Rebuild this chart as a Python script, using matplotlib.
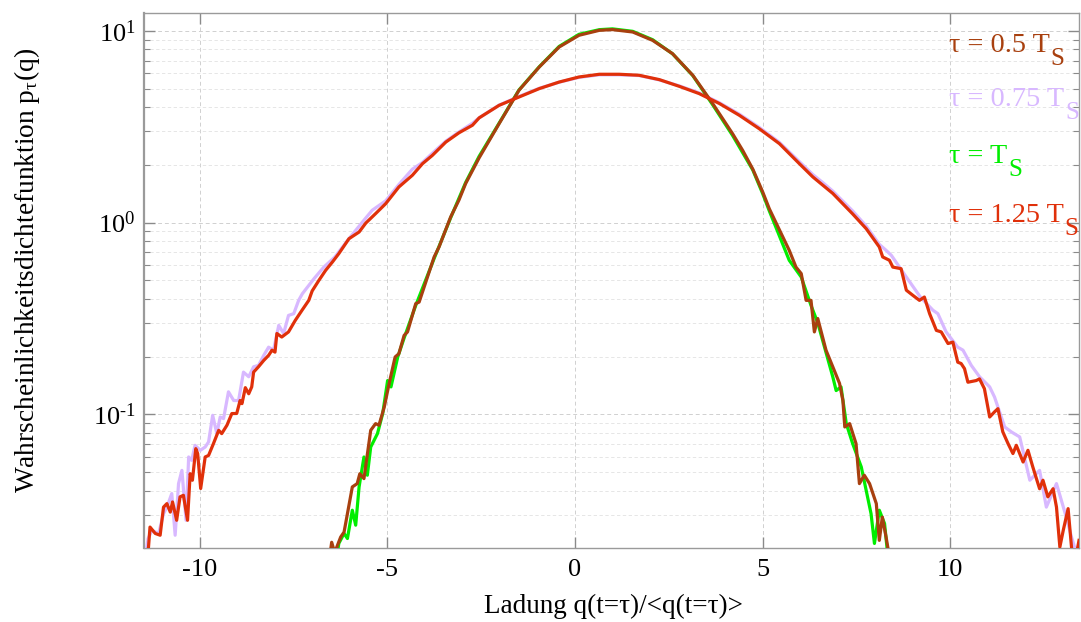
import matplotlib
matplotlib.use("Agg")
import matplotlib.pyplot as plt
from matplotlib.ticker import LogLocator, NullLocator, NullFormatter, FixedLocator, FuncFormatter
import numpy as np

plt.rcParams['font.family'] = ['Liberation Serif', 'DejaVu Serif']
plt.rcParams['mathtext.fontset'] = 'custom'
plt.rcParams['mathtext.rm'] = 'Liberation Serif'
plt.rcParams['mathtext.it'] = 'Liberation Serif:italic'
plt.rcParams['mathtext.bf'] = 'Liberation Serif:bold'
plt.rcParams['axes.unicode_minus'] = False

# ---------------- data ----------------
x_05 = [-6.55, -6.48, -6.40, -6.24, -6.15, -5.93, -5.80, -5.73, -5.62, -5.44, -5.31, -5.22,
        -5.08, -4.95, -4.79, -4.69, -4.55, -4.46, -4.24, -4.15, -3.75, -3.62, -3.31, -3.09,
        -2.91, -2.55, -2.02, -1.49, -0.95, -0.42, 0.11, 0.65, 1.0, 1.54, 2.07, 2.60, 3.14,
        3.67, 4.20, 4.47, 4.74, 5.0, 5.18, 5.54, 5.71, 5.89, 6.03, 6.16, 6.29, 6.38, 6.47,
        6.69, 6.87, 7.05, 7.14, 7.19, 7.32, 7.49, 7.58, 7.71, 7.85, 8.03, 8.11, 8.19, 8.29, 8.38]
y_05 = [0.017, 0.0215, 0.019, 0.0229, 0.0243, 0.0418, 0.0435, 0.049, 0.0462, 0.0825, 0.0894, 0.0877,
        0.109, 0.1445, 0.199, 0.207, 0.258, 0.269, 0.378, 0.385, 0.662, 0.746, 1.07, 1.31,
        1.60, 2.18, 3.28, 4.90, 6.48, 8.24, 9.49, 10.07, 10.16, 9.87, 8.93, 7.61, 5.87,
        4.18, 2.91, 2.38, 1.90, 1.45, 1.18, 0.841, 0.717, 0.586, 0.542, 0.393, 0.393, 0.269, 0.316,
        0.216, 0.177, 0.145, 0.118, 0.0859, 0.0894, 0.0703, 0.0435, 0.0481, 0.0435, 0.0342, 0.022, 0.0291, 0.0229, 0.018]

x_075 = [-11.45, -11.37, -11.27, -11.09, -10.96, -10.87, -10.74, -10.65, -10.56, -10.47, -10.36, -10.29,
         -10.21, -10.12, -9.98, -9.85, -9.76, -9.65, -9.54, -9.45, -9.36, -9.23, -9.09, -8.96,
         -8.83, -8.69, -8.56, -8.43, -8.29, -8.16, -8.03, -7.89, -7.76, -7.63, -7.49, -7.36,
         -7.26, -6.95, -6.69, -6.40, -6.02, -5.66, -5.40, -5.04, -4.69, -4.33, -4.06, -3.80,
         -3.44, -3.09, -2.73, -2.55, -2.02, -1.49, -0.95, -0.42, 0.11, 0.65, 1.18, 1.71, 2.25,
         2.78, 3.31, 3.85, 4.38, 4.91, 5.45, 5.98, 6.34, 6.60, 6.87, 7.40, 7.76, 8.11, 8.29,
         8.43, 8.83, 9.20, 9.54, 9.67, 9.89, 10.20, 10.34, 10.56, 10.78, 11.05, 11.18, 11.45,
         11.63, 11.85, 12.12, 12.38, 12.56, 12.83, 12.96, 13.09, 13.23, 13.31, 13.38]
y_075 = [0.018, 0.0225, 0.0248, 0.0239, 0.0303, 0.0328, 0.0386, 0.0234, 0.0435, 0.051, 0.028, 0.0599,
         0.0575, 0.0689, 0.0649, 0.0675, 0.0717, 0.0988, 0.0793, 0.0968, 0.095, 0.131, 0.118, 0.118,
         0.166, 0.157, 0.177, 0.180, 0.203, 0.224, 0.216, 0.291, 0.264, 0.328, 0.335, 0.393,
         0.426, 0.51, 0.586, 0.66, 0.824, 1.007, 1.16, 1.30, 1.58, 1.90, 2.06, 2.30,
         2.66, 2.97, 3.30, 3.52, 4.10, 4.55, 5.02, 5.40, 5.72, 5.90, 5.90, 5.85, 5.55,
         5.17, 4.75, 4.22, 3.68, 3.14, 2.62, 2.08, 1.78, 1.62, 1.46, 1.15, 0.96, 0.77, 0.717,
         0.675, 0.520, 0.41, 0.349, 0.335, 0.269, 0.224, 0.216, 0.180, 0.157, 0.139, 0.123, 0.0859,
         0.0809, 0.0762, 0.0453, 0.051, 0.0328, 0.0435, 0.0356, 0.0291, 0.0229, 0.0203, 0.018]

x_10 = [-6.36, -6.29, -6.15, -6.06, -5.93, -5.84, -5.75, -5.62, -5.53, -5.44, -5.26, -5.12,
        -4.99, -4.90, -4.72, -4.55, -4.24, -3.75, -3.31, -2.91, -2.55, -2.02, -1.49, -0.95,
        -0.42, 0.11, 0.65, 1.0, 1.54, 2.07, 2.60, 3.14, 3.67, 4.20, 4.74, 5.0, 5.18, 5.71,
        6.03, 6.29, 6.47, 6.87, 6.96, 7.09, 7.23, 7.40, 7.63, 7.76, 7.89, 7.98, 8.11, 8.25, 8.34]
y_10 = [0.017, 0.0212, 0.0239, 0.0225, 0.0316, 0.0264, 0.0418, 0.0599, 0.0481, 0.0675, 0.0793, 0.101,
        0.150, 0.139, 0.199, 0.25, 0.37, 0.65, 1.06, 1.62, 2.22, 3.3, 4.92, 6.5,
        8.3, 9.6, 10.15, 10.25, 9.95, 9.0, 7.6, 5.85, 4.12, 2.85, 1.88, 1.42, 1.15, 0.636,
        0.52, 0.37, 0.30, 0.157, 0.133, 0.139, 0.0894, 0.0703, 0.0531, 0.0401, 0.0303, 0.0212, 0.0316, 0.0269, 0.018]

x_125 = [-11.45, -11.36, -11.32, -11.18, -11.05, -10.96, -10.87, -10.78, -10.72, -10.61, -10.52, -10.43,
         -10.32, -10.25, -10.19, -10.10, -10.05, -9.97, -9.85, -9.76, -9.63, -9.49, -9.41, -9.27,
         -9.14, -9.01, -8.92, -8.87, -8.78, -8.69, -8.61, -8.56, -8.43, -8.29, -8.16, -8.07,
         -7.99, -7.94, -7.81, -7.63, -7.45, -7.27, -7.09, -7.0, -6.82, -6.64, -6.46, -6.29,
         -6.02, -5.75, -5.57, -5.31, -5.04, -4.69, -4.33, -4.06, -3.80, -3.44, -3.09, -2.73,
         -2.55, -2.02, -1.49, -0.95, -0.42, 0.11, 0.65, 1.18, 1.71, 2.25, 2.78, 3.31, 3.85,
         4.38, 4.91, 5.45, 5.98, 6.34, 6.87, 7.40, 7.76, 8.11, 8.20, 8.38, 8.47, 8.69, 8.83,
         9.0, 9.18, 9.31, 9.45, 9.63, 9.76, 9.94, 10.07, 10.20, 10.29, 10.38, 10.47, 10.69,
         10.78, 10.91, 11.05, 11.18, 11.27, 11.40, 11.54, 11.67, 11.76, 11.94, 12.07, 12.20,
         12.38, 12.47, 12.60, 12.74, 12.83, 12.92, 13.01, 13.14, 13.23, 13.30, 13.43]
y_125 = [0.017, 0.0203, 0.0258, 0.0239, 0.0234, 0.0328, 0.0342, 0.0309, 0.0349, 0.0280, 0.0371, 0.0378,
         0.0280, 0.049, 0.0453, 0.0662, 0.0624, 0.041, 0.0599, 0.061, 0.0703, 0.0825, 0.0793, 0.0877,
         0.1009, 0.101, 0.118, 0.1137, 0.1377, 0.128, 0.139, 0.166, 0.177, 0.191, 0.203, 0.216,
         0.211, 0.264, 0.253, 0.269, 0.309, 0.349, 0.393, 0.44, 0.50, 0.564, 0.623, 0.689,
         0.824, 0.893, 0.995, 1.114, 1.256, 1.534, 1.766, 2.03, 2.24, 2.63, 2.94, 3.22,
         3.52, 4.09, 4.52, 5.0, 5.41, 5.75, 5.94, 5.94, 5.87, 5.57, 5.14, 4.71, 4.18,
         3.63, 3.09, 2.58, 2.03, 1.73, 1.42, 1.11, 0.93, 0.746, 0.662, 0.636, 0.586, 0.575, 0.444,
         0.418, 0.393, 0.409, 0.335, 0.274, 0.269, 0.234, 0.238, 0.187, 0.184, 0.173, 0.147, 0.150,
         0.153, 0.136, 0.0968, 0.103, 0.107, 0.081, 0.0703, 0.0624, 0.0689, 0.0564, 0.0649, 0.0531,
         0.0409, 0.0453, 0.0371, 0.0409, 0.0328, 0.0203, 0.0248, 0.0322, 0.0203, 0.016, 0.022]

labels = ['τ = 0.5 T', 'τ = 0.75 T', 'τ = T', 'τ = 1.25 T']
colors = ['#a8400f', '#d8b8ff', '#00ee00', '#e0300a']

# ---------------- figure ----------------
W, H = 1081, 622
fig = plt.figure(figsize=(W / 100, H / 100), dpi=100)
ax = fig.add_axes([144 / W, (H - 548.3) / H, (1079 - 144) / W, (548.3 - 13) / H])

lw = 2.3
ax.plot(x_075, y_075, color=colors[1], lw=lw, zorder=3)
ax.plot(x_10, y_10, color=colors[2], lw=lw, zorder=4)
ax.plot(x_05, y_05, color=colors[0], lw=lw, zorder=5)
ax.plot(x_125, y_125, color=colors[3], lw=lw, zorder=6)

ax.set_yscale('log')
ax.set_xlim(-11.48, 13.43)
ax.set_ylim(0.02, 12.4)
ax.xaxis.set_major_locator(FixedLocator([-10, -5, 0, 5, 10]))
ax.xaxis.set_minor_locator(NullLocator())
ax.xaxis.set_major_formatter(FuncFormatter(lambda v, p: '%d' % v))
ax.yaxis.set_major_locator(LogLocator(base=10, numticks=10))
ax.yaxis.set_minor_locator(LogLocator(base=10, subs=range(2, 10), numticks=20))
ax.yaxis.set_minor_formatter(NullFormatter())
ax.yaxis.set_major_formatter(FuncFormatter(
    lambda v, p: r'10$^{\text{%d}}$' % int(round(np.log10(v)))))

ax.grid(which='major', axis='both', ls=(0, (4, 3)), color='#d0d0d0', lw=0.7)
ax.grid(which='minor', axis='y', ls=(0, (4, 3)), color='#e2e2e2', lw=0.6)
ax.set_axisbelow(True)

ax.tick_params(which='both', direction='in', top=True, right=True, color='#8a8a8a',
               labelsize=19, labelcolor='black')
ax.tick_params(axis='x', which='major', length=8, width=1.0, pad=8)
ax.tick_params(axis='y', which='major', length=8, width=1.0, pad=6)
ax.tick_params(which='minor', length=4, width=0.8)
for s in ax.spines.values():
    s.set_color('#9a9a9a')
    s.set_linewidth(1.0)
ax.spines['left'].set_linewidth(1.6)

fig.text(613 / W, 1 - 606 / H, 'Ladung q(t=τ)/<q(t=τ)>', ha='center', va='center', fontsize=19.5)
fig.text(27 / W, 1 - 270 / H, r'Wahrscheinlichkeitsdichtefunktion p$_{\mathregular{τ}}$(q)',
         ha='center', va='center', rotation=90, fontsize=19.7)

renderer = fig.canvas.get_renderer()
base_y = [52, 106, 163, 222]
for lab, c, yy in zip(labels, colors, base_y):
    t = fig.text(949 / W, 1 - yy / H, lab, color=c, ha='left', va='baseline', fontsize=20.3)
    bb = t.get_window_extent(renderer)
    fig.text((bb.x1 + 1) / W, 1 - (yy + 13) / H, 'S', color=c, ha='left', va='baseline',
             fontsize=18)

fig.savefig('out.png', dpi=100)
